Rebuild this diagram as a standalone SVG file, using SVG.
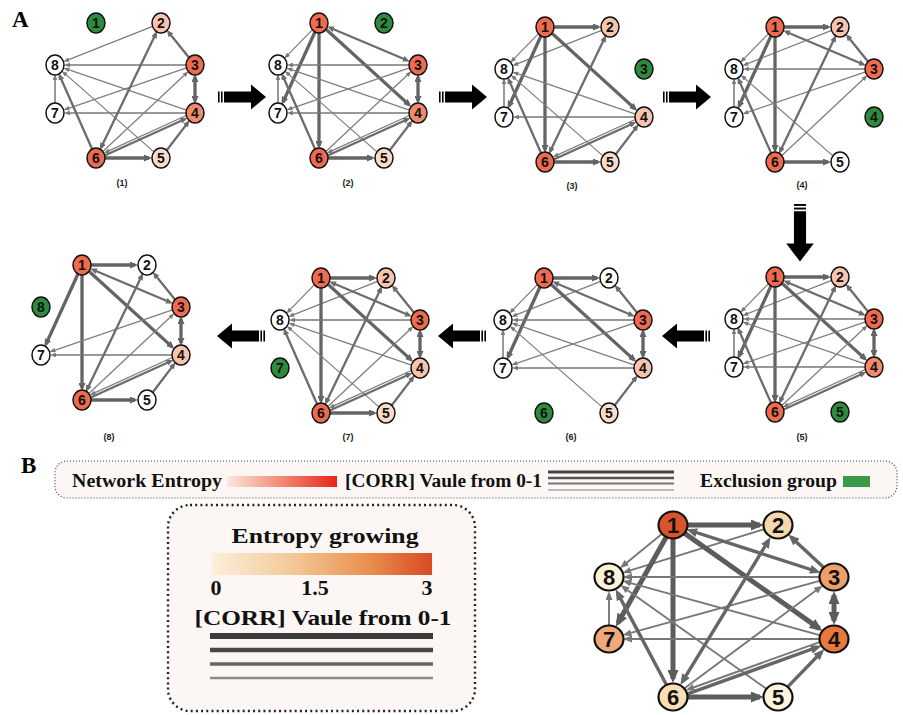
<svg xmlns="http://www.w3.org/2000/svg" xmlns:xlink="http://www.w3.org/1999/xlink" width="903" height="715" viewBox="0 0 903 715">
<style>
.nd ellipse{stroke:#111;stroke-width:1.5}
.nd text{font-family:"Liberation Sans",Arial,sans-serif;font-weight:bold;font-size:14px;text-anchor:middle;fill:#111}
.bn ellipse{stroke:#111;stroke-width:2.2}
.bn text{font-family:"Liberation Sans",Arial,sans-serif;font-weight:bold;font-size:22px;text-anchor:middle;fill:#111}
.c0{fill:#ffffff}.cR{fill:#ef6a4e}.cM{fill:#f28b6e}.cL{fill:#f8c4ad}.cP{fill:#fbdacb}.cG{fill:#2e8b3d}
line{fill:none}
.tk{stroke:#646464;stroke-width:3.3;marker-end:url(#aTk)}
.md{stroke:#6c6c6c;stroke-width:2.3;marker-end:url(#aMd)}
.tn{stroke:#7e7e7e;stroke-width:1.25;marker-end:url(#aTn)}
.tn2{stroke:#777;stroke-width:1.5;marker-end:url(#aTn)}
.tk.db{marker-start:url(#aTk)}
.md.db{marker-start:url(#aMd)}
.btk{stroke:#5c5c5c;stroke-width:5;marker-end:url(#bTk)}
.bmd{stroke:#666;stroke-width:3.4;marker-end:url(#bMd)}
.btn{stroke:#787878;stroke-width:1.9;marker-end:url(#bTn)}
.btk.db{marker-start:url(#bTk)}
.bmd.db{marker-start:url(#bMd)}
.lbl{font-family:"Liberation Sans",Arial,sans-serif;font-weight:bold;font-size:9px;text-anchor:middle;fill:#222}
.big{font-family:"Liberation Serif","Times New Roman",serif;font-weight:bold;font-size:23px;fill:#000}
.leg1{font-family:"Liberation Serif","Times New Roman",serif;font-weight:bold;font-size:18px;fill:#111}
.leg2{font-family:"Liberation Serif","Times New Roman",serif;font-weight:bold;font-size:22px;fill:#111;text-anchor:middle}
.box1{fill:#fcf7f5;stroke:#444;stroke-width:1.2;stroke-dasharray:1 2}
.box2{fill:#fcf7f5;stroke:#222;stroke-width:2.4;stroke-dasharray:2 3.2}
.blk{fill:#000}
</style>
<defs>
<marker id="aTk" viewBox="0 0 8 7" markerWidth="8" markerHeight="7" refX="5" refY="3.5" orient="auto-start-reverse" markerUnits="userSpaceOnUse"><path d="M0,0 L8,3.5 L0,7 z" fill="#646464"/></marker>
<marker id="aMd" viewBox="0 0 7 6" markerWidth="7" markerHeight="6" refX="4" refY="3" orient="auto-start-reverse" markerUnits="userSpaceOnUse"><path d="M0,0 L7,3 L0,6 z" fill="#6c6c6c"/></marker>
<marker id="aTn" viewBox="0 0 6 4.6" markerWidth="6" markerHeight="4.6" refX="3" refY="2.3" orient="auto-start-reverse" markerUnits="userSpaceOnUse"><path d="M0,0 L6,2.3 L0,4.6 z" fill="#7a7a7a"/></marker>
<marker id="bTk" viewBox="0 0 13 11" markerWidth="13" markerHeight="11" refX="9" refY="5.5" orient="auto-start-reverse" markerUnits="userSpaceOnUse"><path d="M0,0 L13,5.5 L0,11 z" fill="#5c5c5c"/></marker>
<marker id="bMd" viewBox="0 0 11 9" markerWidth="11" markerHeight="9" refX="7" refY="4.5" orient="auto-start-reverse" markerUnits="userSpaceOnUse"><path d="M0,0 L11,4.5 L0,9 z" fill="#666"/></marker>
<marker id="bTn" viewBox="0 0 9 7" markerWidth="9" markerHeight="7" refX="5" refY="3.5" orient="auto-start-reverse" markerUnits="userSpaceOnUse"><path d="M0,0 L9,3.5 L0,7 z" fill="#787878"/></marker>
<linearGradient id="gNet" x1="0" y1="0" x2="1" y2="0"><stop offset="0" stop-color="#fbe6de"/><stop offset="0.5" stop-color="#f08a74"/><stop offset="1" stop-color="#e8241c"/></linearGradient>
<linearGradient id="gEnt" x1="0" y1="0" x2="1" y2="0"><stop offset="0" stop-color="#fcefdc"/><stop offset="0.35" stop-color="#f3cb9c"/><stop offset="0.7" stop-color="#ea9251"/><stop offset="1" stop-color="#d84a25"/></linearGradient>
<g id="blk" class="blk"><rect x="0" y="-5.5" width="1.6" height="11"/><rect x="3" y="-5.5" width="1.6" height="11"/><path d="M6,-5.5 H33 V-12.5 L48,0 L33,12.5 V5.5 H6 z"/></g>
<line id="s12" class="tk" x1="9" y1="0" x2="53" y2="0"/>
<line id="s18" class="tn" x1="-6.3" y1="6.4" x2="-32.6" y2="33.4"/>
<line id="s28" class="tn" x1="56.6" y1="3.3" x2="-29.8" y2="37.6"/>
<line id="s17" class="tk" x1="-3.7" y1="8.2" x2="-36" y2="79.1"/>
<line id="s16" class="tk" x1="0" y1="9" x2="0" y2="123"/>
<line id="s13" class="md db" x1="11" y1="4.7" x2="88" y2="37.3"/>
<line id="s14" class="tk" x1="6.7" y1="6" x2="90.1" y2="81.9"/>
<line id="s32" class="md" x1="93.3" y1="35" x2="72.6" y2="9.3"/>
<line id="s38" class="tn2" x1="90" y1="42" x2="-29" y2="42"/>
<line id="s34" class="tk db" x1="99" y1="54" x2="99" y2="78"/>
<line id="s37" class="tn" x1="90.5" y1="44.9" x2="-29.7" y2="86.1"/>
<line id="s47" class="tn2" x1="90" y1="90" x2="-29" y2="90"/>
<line id="s48" class="tn" x1="90.5" y1="87.1" x2="-29.7" y2="45.9"/>
<line id="s58" class="tn" x1="58.2" y1="129.1" x2="-32" y2="49.9"/>
<line id="s54" class="md" x1="70.4" y1="127.8" x2="91.8" y2="99.6"/>
<line id="s62" class="md db" x1="5.2" y1="124.2" x2="59.8" y2="10.8"/>
<line id="s63" class="tn" x1="6.6" y1="128.8" x2="90.3" y2="50.2"/>
<line id="s64" class="md" x1="8.7" y1="132.5" x2="88.6" y2="96.2"/>
<line id="s46" class="tn" x1="90.3" y1="92.5" x2="10.4" y2="128.9"/>
<line id="s68" class="md" x1="-3.6" y1="126.8" x2="-36.2" y2="53"/>
<line id="s65" class="tk" x1="9" y1="135" x2="53" y2="135"/>
<line id="s78" class="tn2" x1="-41" y1="81" x2="-41" y2="54"/>
</defs>

<rect width="903" height="715" fill="#ffffff"/>
<text class="big" x="12" y="27">A</text>
<text class="big" x="21" y="473">B</text>

<g id="step-arrows">
<use href="#blk" transform="translate(218,97)"/>
<use href="#blk" transform="translate(439,97)"/>
<use href="#blk" transform="translate(663,97)"/>
<use href="#blk" transform="translate(800,204) rotate(90) scale(1.2,1.1)"/>
<use href="#blk" transform="translate(710,336) rotate(180)"/>
<use href="#blk" transform="translate(486,336) rotate(180)"/>
<use href="#blk" transform="translate(265,336) rotate(180)"/>
</g>

<g id="panel1" transform="translate(96,23)">
<g id="p1-edges"><use href="#s28"/><use href="#s32"/><use href="#s38"/><use href="#s34"/><use href="#s37"/><use href="#s47"/><use href="#s48"/><use href="#s58"/><use href="#s54"/><use href="#s62"/><use href="#s63"/><use href="#s64"/><use href="#s46"/><use href="#s68"/><use href="#s65"/><use href="#s78"/></g>
<g id="p1-n1" class="nd"><ellipse class="cG" cx="0" cy="0" rx="9" ry="10"/><text x="0" y="5">1</text></g>
<g id="p1-n2" class="nd"><ellipse class="cL" cx="65" cy="0" rx="9" ry="10"/><text x="65" y="5">2</text></g>
<g id="p1-n3" class="nd"><ellipse class="cR" cx="99" cy="42" rx="9" ry="10"/><text x="99" y="47">3</text></g>
<g id="p1-n4" class="nd"><ellipse class="cM" cx="99" cy="90" rx="9" ry="10"/><text x="99" y="95">4</text></g>
<g id="p1-n5" class="nd"><ellipse class="cP" cx="65" cy="135" rx="9" ry="10"/><text x="65" y="140">5</text></g>
<g id="p1-n6" class="nd"><ellipse class="cR" cx="0" cy="135" rx="9" ry="10"/><text x="0" y="140">6</text></g>
<g id="p1-n7" class="nd"><ellipse class="c0" cx="-41" cy="90" rx="9" ry="10"/><text x="-41" y="95">7</text></g>
<g id="p1-n8" class="nd"><ellipse class="c0" cx="-41" cy="42" rx="9" ry="10"/><text x="-41" y="47">8</text></g>
</g>

<g id="panel2" transform="translate(319,23)">
<g id="p2-edges"><use href="#s18"/><use href="#s17"/><use href="#s16"/><use href="#s13"/><use href="#s14"/><use href="#s38"/><use href="#s34"/><use href="#s37"/><use href="#s47"/><use href="#s48"/><use href="#s58"/><use href="#s54"/><use href="#s63"/><use href="#s64"/><use href="#s46"/><use href="#s68"/><use href="#s65"/><use href="#s78"/></g>
<g id="p2-n1" class="nd"><ellipse class="cR" cx="0" cy="0" rx="9" ry="10"/><text x="0" y="5">1</text></g>
<g id="p2-n2" class="nd"><ellipse class="cG" cx="65" cy="0" rx="9" ry="10"/><text x="65" y="5">2</text></g>
<g id="p2-n3" class="nd"><ellipse class="cR" cx="99" cy="42" rx="9" ry="10"/><text x="99" y="47">3</text></g>
<g id="p2-n4" class="nd"><ellipse class="cM" cx="99" cy="90" rx="9" ry="10"/><text x="99" y="95">4</text></g>
<g id="p2-n5" class="nd"><ellipse class="cP" cx="65" cy="135" rx="9" ry="10"/><text x="65" y="140">5</text></g>
<g id="p2-n6" class="nd"><ellipse class="cR" cx="0" cy="135" rx="9" ry="10"/><text x="0" y="140">6</text></g>
<g id="p2-n7" class="nd"><ellipse class="c0" cx="-41" cy="90" rx="9" ry="10"/><text x="-41" y="95">7</text></g>
<g id="p2-n8" class="nd"><ellipse class="c0" cx="-41" cy="42" rx="9" ry="10"/><text x="-41" y="47">8</text></g>
</g>

<g id="panel3" transform="translate(545,27)">
<g id="p3-edges"><use href="#s12"/><use href="#s18"/><use href="#s28"/><use href="#s17"/><use href="#s16"/><use href="#s14"/><use href="#s47"/><use href="#s48"/><use href="#s58"/><use href="#s54"/><use href="#s62"/><use href="#s64"/><use href="#s46"/><use href="#s68"/><use href="#s65"/><use href="#s78"/></g>
<g id="p3-n1" class="nd"><ellipse class="cR" cx="0" cy="0" rx="9" ry="10"/><text x="0" y="5">1</text></g>
<g id="p3-n2" class="nd"><ellipse class="cL" cx="65" cy="0" rx="9" ry="10"/><text x="65" y="5">2</text></g>
<g id="p3-n3" class="nd"><ellipse class="cG" cx="99" cy="42" rx="9" ry="10"/><text x="99" y="47">3</text></g>
<g id="p3-n4" class="nd"><ellipse class="cL" cx="99" cy="90" rx="9" ry="10"/><text x="99" y="95">4</text></g>
<g id="p3-n5" class="nd"><ellipse class="cP" cx="65" cy="135" rx="9" ry="10"/><text x="65" y="140">5</text></g>
<g id="p3-n6" class="nd"><ellipse class="cR" cx="0" cy="135" rx="9" ry="10"/><text x="0" y="140">6</text></g>
<g id="p3-n7" class="nd"><ellipse class="c0" cx="-41" cy="90" rx="9" ry="10"/><text x="-41" y="95">7</text></g>
<g id="p3-n8" class="nd"><ellipse class="c0" cx="-41" cy="42" rx="9" ry="10"/><text x="-41" y="47">8</text></g>
</g>

<g id="panel4" transform="translate(775,27)">
<g id="p4-edges"><use href="#s12"/><use href="#s18"/><use href="#s28"/><use href="#s17"/><use href="#s16"/><use href="#s13"/><use href="#s32"/><use href="#s38"/><use href="#s37"/><use href="#s58"/><use href="#s62"/><use href="#s63"/><use href="#s68"/><use href="#s65"/><use href="#s78"/></g>
<g id="p4-n1" class="nd"><ellipse class="cR" cx="0" cy="0" rx="9" ry="10"/><text x="0" y="5">1</text></g>
<g id="p4-n2" class="nd"><ellipse class="cL" cx="65" cy="0" rx="9" ry="10"/><text x="65" y="5">2</text></g>
<g id="p4-n3" class="nd"><ellipse class="cR" cx="99" cy="42" rx="9" ry="10"/><text x="99" y="47">3</text></g>
<g id="p4-n4" class="nd"><ellipse class="cG" cx="99" cy="90" rx="9" ry="10"/><text x="99" y="95">4</text></g>
<g id="p4-n5" class="nd"><ellipse class="c0" cx="65" cy="135" rx="9" ry="10"/><text x="65" y="140">5</text></g>
<g id="p4-n6" class="nd"><ellipse class="cR" cx="0" cy="135" rx="9" ry="10"/><text x="0" y="140">6</text></g>
<g id="p4-n7" class="nd"><ellipse class="c0" cx="-41" cy="90" rx="9" ry="10"/><text x="-41" y="95">7</text></g>
<g id="p4-n8" class="nd"><ellipse class="c0" cx="-41" cy="42" rx="9" ry="10"/><text x="-41" y="47">8</text></g>
</g>

<g id="panel5" transform="translate(775,277)">
<g id="p5-edges"><use href="#s12"/><use href="#s18"/><use href="#s28"/><use href="#s17"/><use href="#s16"/><use href="#s13"/><use href="#s14"/><use href="#s32"/><use href="#s38"/><use href="#s34"/><use href="#s37"/><use href="#s47"/><use href="#s48"/><use href="#s62"/><use href="#s63"/><use href="#s64"/><use href="#s46"/><use href="#s68"/><use href="#s78"/></g>
<g id="p5-n1" class="nd"><ellipse class="cR" cx="0" cy="0" rx="9" ry="10"/><text x="0" y="5">1</text></g>
<g id="p5-n2" class="nd"><ellipse class="cL" cx="65" cy="0" rx="9" ry="10"/><text x="65" y="5">2</text></g>
<g id="p5-n3" class="nd"><ellipse class="cR" cx="99" cy="42" rx="9" ry="10"/><text x="99" y="47">3</text></g>
<g id="p5-n4" class="nd"><ellipse class="cM" cx="99" cy="90" rx="9" ry="10"/><text x="99" y="95">4</text></g>
<g id="p5-n5" class="nd"><ellipse class="cG" cx="65" cy="135" rx="9" ry="10"/><text x="65" y="140">5</text></g>
<g id="p5-n6" class="nd"><ellipse class="cR" cx="0" cy="135" rx="9" ry="10"/><text x="0" y="140">6</text></g>
<g id="p5-n7" class="nd"><ellipse class="c0" cx="-41" cy="90" rx="9" ry="10"/><text x="-41" y="95">7</text></g>
<g id="p5-n8" class="nd"><ellipse class="c0" cx="-41" cy="42" rx="9" ry="10"/><text x="-41" y="47">8</text></g>
</g>

<g id="panel6" transform="translate(544,278)">
<g id="p6-edges"><use href="#s12"/><use href="#s18"/><use href="#s28"/><use href="#s17"/><use href="#s13"/><use href="#s14"/><use href="#s32"/><use href="#s38"/><use href="#s34"/><use href="#s37"/><use href="#s47"/><use href="#s48"/><use href="#s58"/><use href="#s54"/><use href="#s78"/></g>
<g id="p6-n1" class="nd"><ellipse class="cR" cx="0" cy="0" rx="9" ry="10"/><text x="0" y="5">1</text></g>
<g id="p6-n2" class="nd"><ellipse class="c0" cx="65" cy="0" rx="9" ry="10"/><text x="65" y="5">2</text></g>
<g id="p6-n3" class="nd"><ellipse class="cR" cx="99" cy="42" rx="9" ry="10"/><text x="99" y="47">3</text></g>
<g id="p6-n4" class="nd"><ellipse class="cL" cx="99" cy="90" rx="9" ry="10"/><text x="99" y="95">4</text></g>
<g id="p6-n5" class="nd"><ellipse class="cP" cx="65" cy="135" rx="9" ry="10"/><text x="65" y="140">5</text></g>
<g id="p6-n6" class="nd"><ellipse class="cG" cx="0" cy="135" rx="9" ry="10"/><text x="0" y="140">6</text></g>
<g id="p6-n7" class="nd"><ellipse class="c0" cx="-41" cy="90" rx="9" ry="10"/><text x="-41" y="95">7</text></g>
<g id="p6-n8" class="nd"><ellipse class="c0" cx="-41" cy="42" rx="9" ry="10"/><text x="-41" y="47">8</text></g>
</g>

<g id="panel7" transform="translate(321,278)">
<g id="p7-edges"><use href="#s12"/><use href="#s18"/><use href="#s28"/><use href="#s16"/><use href="#s13"/><use href="#s14"/><use href="#s32"/><use href="#s38"/><use href="#s34"/><use href="#s48"/><use href="#s58"/><use href="#s54"/><use href="#s62"/><use href="#s63"/><use href="#s64"/><use href="#s46"/><use href="#s68"/><use href="#s65"/></g>
<g id="p7-n1" class="nd"><ellipse class="cR" cx="0" cy="0" rx="9" ry="10"/><text x="0" y="5">1</text></g>
<g id="p7-n2" class="nd"><ellipse class="cL" cx="65" cy="0" rx="9" ry="10"/><text x="65" y="5">2</text></g>
<g id="p7-n3" class="nd"><ellipse class="cR" cx="99" cy="42" rx="9" ry="10"/><text x="99" y="47">3</text></g>
<g id="p7-n4" class="nd"><ellipse class="cL" cx="99" cy="90" rx="9" ry="10"/><text x="99" y="95">4</text></g>
<g id="p7-n5" class="nd"><ellipse class="cP" cx="65" cy="135" rx="9" ry="10"/><text x="65" y="140">5</text></g>
<g id="p7-n6" class="nd"><ellipse class="cR" cx="0" cy="135" rx="9" ry="10"/><text x="0" y="140">6</text></g>
<g id="p7-n7" class="nd"><ellipse class="cG" cx="-41" cy="90" rx="9" ry="10"/><text x="-41" y="95">7</text></g>
<g id="p7-n8" class="nd"><ellipse class="c0" cx="-41" cy="42" rx="9" ry="10"/><text x="-41" y="47">8</text></g>
</g>

<g id="panel8" transform="translate(82,265)">
<g id="p8-edges"><use href="#s12"/><use href="#s17"/><use href="#s16"/><use href="#s13"/><use href="#s14"/><use href="#s32"/><use href="#s34"/><use href="#s37"/><use href="#s47"/><use href="#s54"/><use href="#s62"/><use href="#s63"/><use href="#s64"/><use href="#s46"/><use href="#s65"/></g>
<g id="p8-n1" class="nd"><ellipse class="cR" cx="0" cy="0" rx="9" ry="10"/><text x="0" y="5">1</text></g>
<g id="p8-n2" class="nd"><ellipse class="c0" cx="65" cy="0" rx="9" ry="10"/><text x="65" y="5">2</text></g>
<g id="p8-n3" class="nd"><ellipse class="cR" cx="99" cy="42" rx="9" ry="10"/><text x="99" y="47">3</text></g>
<g id="p8-n4" class="nd"><ellipse class="cL" cx="99" cy="90" rx="9" ry="10"/><text x="99" y="95">4</text></g>
<g id="p8-n5" class="nd"><ellipse class="c0" cx="65" cy="135" rx="9" ry="10"/><text x="65" y="140">5</text></g>
<g id="p8-n6" class="nd"><ellipse class="cR" cx="0" cy="135" rx="9" ry="10"/><text x="0" y="140">6</text></g>
<g id="p8-n7" class="nd"><ellipse class="c0" cx="-41" cy="90" rx="9" ry="10"/><text x="-41" y="95">7</text></g>
<g id="p8-n8" class="nd"><ellipse class="cG" cx="-41" cy="42" rx="9" ry="10"/><text x="-41" y="47">8</text></g>
</g>

<g id="panel-labels">
<text class="lbl" x="122" y="186">(1)</text>
<text class="lbl" x="348" y="186">(2)</text>
<text class="lbl" x="572" y="189">(3)</text>
<text class="lbl" x="802" y="188">(4)</text>
<text class="lbl" x="802" y="440">(5)</text>
<text class="lbl" x="571" y="440">(6)</text>
<text class="lbl" x="348" y="440">(7)</text>
<text class="lbl" x="109" y="440">(8)</text>
</g>

<g id="legend-bar">
<rect class="box1" x="55" y="461" width="842" height="37" rx="12"/>
<text class="leg1" x="72" y="487" textLength="150" lengthAdjust="spacingAndGlyphs">Network Entropy</text>
<rect x="227" y="476" width="110" height="11" fill="url(#gNet)"/>
<text class="leg1" x="345" y="487" textLength="197" lengthAdjust="spacingAndGlyphs">[CORR] Vaule from 0-1</text>
<line x1="548" y1="472" x2="674" y2="472" stroke="#444" stroke-width="3"/>
<line x1="548" y1="478" x2="674" y2="478" stroke="#555" stroke-width="2.4"/>
<line x1="548" y1="483.5" x2="674" y2="483.5" stroke="#777" stroke-width="1.8"/>
<line x1="548" y1="490" x2="674" y2="490" stroke="#a8a8a8" stroke-width="1.6"/>
<text class="leg1" x="700" y="487" textLength="137" lengthAdjust="spacingAndGlyphs">Exclusion group</text>
<rect x="843" y="476" width="27" height="11" fill="#3b9a4a"/>
</g>

<g id="legend-box">
<rect class="box2" x="168" y="505" width="307" height="206" rx="22"/>
<text class="leg2" x="325" y="543" textLength="187" lengthAdjust="spacingAndGlyphs">Entropy growing</text>
<rect x="212" y="553" width="220" height="22" fill="url(#gEnt)"/>
<text class="leg2" x="216" y="595">0</text>
<text class="leg2" x="315" y="595">1.5</text>
<text class="leg2" x="427" y="595">3</text>
<text class="leg2" x="323" y="625" textLength="257" lengthAdjust="spacingAndGlyphs">[CORR] Vaule from 0-1</text>
<line x1="210" y1="636" x2="433" y2="636" stroke="#3a3a3a" stroke-width="6"/>
<line x1="210" y1="650" x2="433" y2="650" stroke="#474747" stroke-width="4.6"/>
<line x1="210" y1="664" x2="433" y2="664" stroke="#656565" stroke-width="3.4"/>
<line x1="210" y1="678" x2="433" y2="678" stroke="#8a8a8a" stroke-width="2.5"/>
</g>

<g id="networkB" transform="translate(673,525)">
<g id="b-edges">
<line class="btk" x1="14" y1="0" x2="87" y2="0"/>
<line class="btn" x1="-10.9" y1="8.8" x2="-50" y2="40.7"/>
<line class="btn" x1="91.6" y1="4.1" x2="-46.8" y2="46.7"/>
<line class="btk" x1="-6.9" y1="12.2" x2="-55.2" y2="98.3"/>
<line class="btk" x1="0" y1="14" x2="0" y2="154"/>
<line class="bmd db" x1="17.1" y1="5.5" x2="143.9" y2="46.5"/>
<line class="btk" x1="11.4" y1="8.1" x2="146.3" y2="103.6"/>
<line class="bmd" x1="150.7" y1="42.5" x2="118.2" y2="12.3"/>
<line class="btn" x1="147" y1="52" x2="-46" y2="52"/>
<line class="btk db" x1="161" y1="70" x2="161" y2="96"/>
<line class="btn" x1="147.5" y1="55.7" x2="-46.7" y2="109.2"/>
<line class="btn" x1="147" y1="114" x2="-46" y2="114"/>
<line class="btn" x1="147.5" y1="110.3" x2="-46.7" y2="56.8"/>
<line class="btn" x1="93.6" y1="163.9" x2="-49.3" y2="62.4"/>
<line class="bmd" x1="114.7" y1="161.9" x2="148.5" y2="127"/>
<line class="bmd db" x1="9.4" y1="156.6" x2="95.6" y2="15.4"/>
<line class="btn" x1="11.2" y1="163.6" x2="146.6" y2="62.8"/>
<line class="bmd" x1="13.9" y1="169.1" x2="144.8" y2="122"/>
<line class="btn" x1="147.2" y1="116.9" x2="16.3" y2="164"/>
<line class="bmd" x1="-6.6" y1="159.7" x2="-55.5" y2="67.9"/>
<line class="btk" x1="14" y1="172" x2="87" y2="172"/>
<line class="btn" x1="-64" y1="100" x2="-64" y2="70"/>
</g>
<g id="b-n1" class="bn"><ellipse cx="0" cy="0" rx="14.5" ry="13.5" fill="#d9542c"/><text x="0" y="8">1</text></g>
<g id="b-n2" class="bn"><ellipse cx="105" cy="0" rx="14.5" ry="13.5" fill="#f7d7ad"/><text x="105" y="8">2</text></g>
<g id="b-n3" class="bn"><ellipse cx="161" cy="52" rx="14.5" ry="13.5" fill="#eea068"/><text x="161" y="60">3</text></g>
<g id="b-n4" class="bn"><ellipse cx="161" cy="114" rx="14.5" ry="13.5" fill="#e8783c"/><text x="161" y="122">4</text></g>
<g id="b-n5" class="bn"><ellipse cx="105" cy="172" rx="14.5" ry="13.5" fill="#fdf4de"/><text x="105" y="180">5</text></g>
<g id="b-n6" class="bn"><ellipse cx="0" cy="172" rx="14.5" ry="13.5" fill="#f9deb6"/><text x="0" y="180">6</text></g>
<g id="b-n7" class="bn"><ellipse cx="-64" cy="114" rx="14.5" ry="13.5" fill="#efa97a"/><text x="-64" y="122">7</text></g>
<g id="b-n8" class="bn"><ellipse cx="-64" cy="52" rx="14.5" ry="13.5" fill="#fcf2d6"/><text x="-64" y="60">8</text></g>
</g>
</svg>
